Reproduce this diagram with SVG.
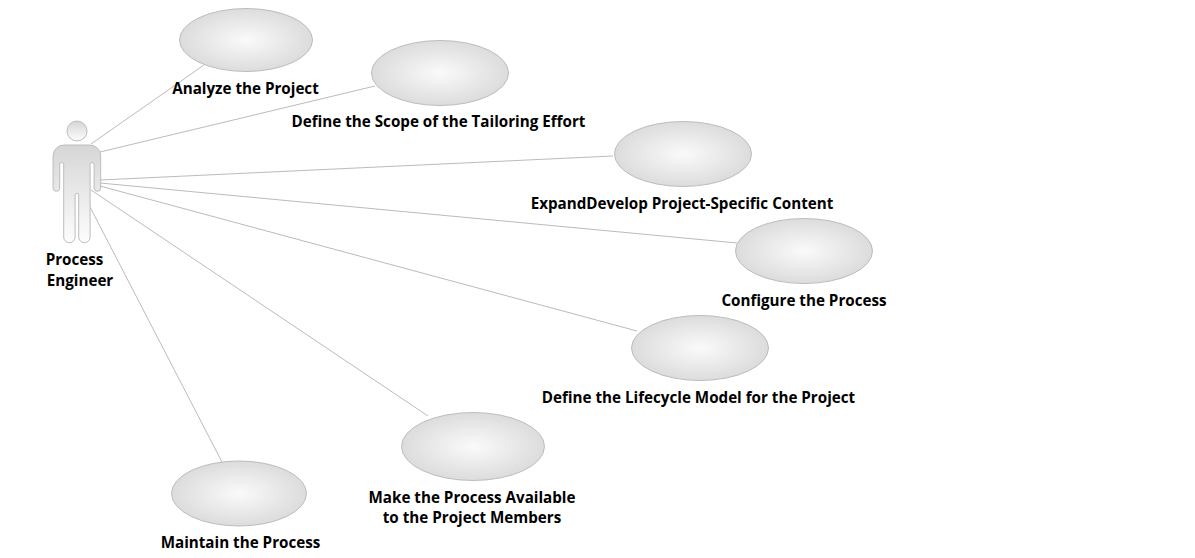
<svg xmlns="http://www.w3.org/2000/svg" width="1195" height="558" viewBox="0 0 1195 558">
<style>
.uc{fill:url(#ug);stroke:#bdbdbd;stroke-width:1}
.c{stroke:#bbbbbb;stroke-width:1;fill:none}
.a{fill:url(#ag);stroke:#bdbdbd;stroke-width:1}
text{font-family:"Open Sans","Noto Sans","Liberation Sans",sans-serif;font-weight:700;font-size:15.2px;fill:#000;text-anchor:middle}
</style>
<defs>
<radialGradient id="ug" cx="50%" cy="50%" r="50%"><stop offset="0" stop-color="#fafafa"/><stop offset="1" stop-color="#dcdcdc"/></radialGradient>
<linearGradient id="ag" x1="0" y1="0" x2="0" y2="1"><stop offset="0" stop-color="#d6d6d6"/><stop offset="1" stop-color="#fdfdfd"/></linearGradient>
</defs>
<g id="connectors">
<line class="c" x1="91" y1="144" x2="204" y2="65"/>
<line class="c" x1="100" y1="152" x2="375" y2="86"/>
<line class="c" x1="100" y1="180" x2="613" y2="156"/>
<line class="c" x1="100" y1="183" x2="737" y2="243"/>
<line class="c" x1="100" y1="186" x2="637" y2="331"/>
<line class="c" x1="91" y1="190" x2="428" y2="416"/>
<line class="c" x1="90" y1="207" x2="222" y2="462"/>
</g>
<g id="actor">
<circle class="a" cx="77" cy="131" r="10"/>
<path class="a" d="M64.100,145H89.700a11,11 0 0 1 11,11V188a3.300,3.300 0 0 1 -6.600,0V164.500a2,2 0 0 0 -4,0V237a5.700,5.700 0 0 1 -11.400,0V195a1.800,1.800 0 0 0 -3.600,0V237a5.700,5.700 0 0 1 -11.400,0V164.500a2,2 0 0 0 -4,0V188a3.300,3.300 0 0 1 -6.600,0V156a11,11 0 0 1 11,-11Z"/>
<text x="74.500" y="265">Process</text>
<text x="80" y="286">Engineer</text>
</g>
<g id="uc1"><ellipse class="uc" cx="246" cy="40" rx="66.500" ry="31.500"/><text x="245.500" y="94">Analyze the Project</text></g>
<g id="uc2"><ellipse class="uc" cx="440" cy="73" rx="68.500" ry="32.500"/><text x="438.500" y="127">Define the Scope of the Tailoring Effort</text></g>
<g id="uc3"><ellipse class="uc" cx="683" cy="154" rx="68.500" ry="32.500"/><text x="682" y="208.500">ExpandDevelop Project-Specific Content</text></g>
<g id="uc4"><ellipse class="uc" cx="804" cy="251" rx="68.500" ry="32.500"/><text x="804" y="306">Configure the Process</text></g>
<g id="uc5"><ellipse class="uc" cx="700" cy="348" rx="68.500" ry="32.500"/><text x="698.500" y="402.500">Define the Lifecycle Model for the Project</text></g>
<g id="uc6"><ellipse class="uc" cx="473" cy="446.500" rx="71.500" ry="34"/><text x="472" y="502.500">Make the Process Available</text><text x="472" y="522.500">to the Project Members</text></g>
<g id="uc7"><ellipse class="uc" cx="239" cy="493.500" rx="67.500" ry="32.500"/><text x="240.500" y="547.500">Maintain the Process</text></g>
</svg>
